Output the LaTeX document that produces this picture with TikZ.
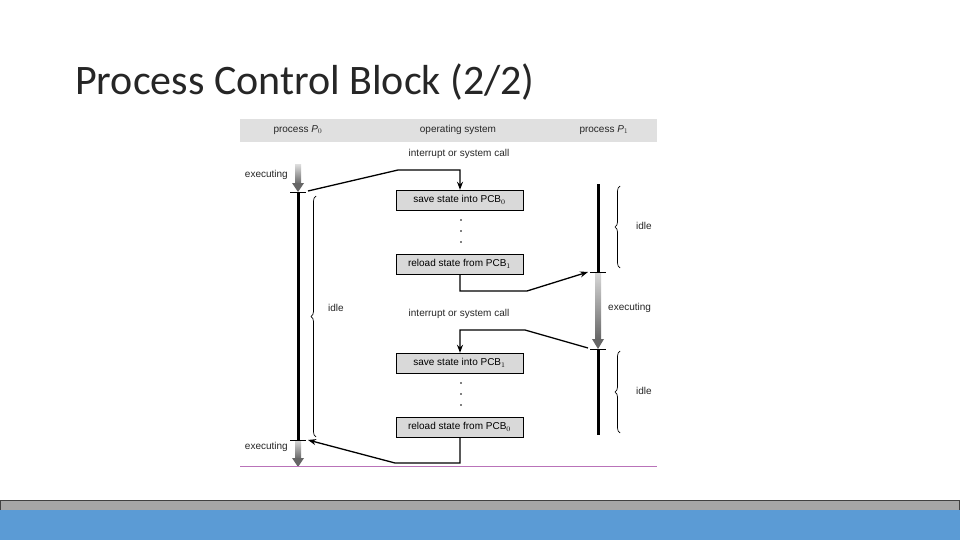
\documentclass[tikz,border=0pt]{standalone}
\usepackage{fontspec}
\setmainfont{Liberation Sans}
\newfontfamily\titlefont{Carlito}
\usetikzlibrary{decorations.pathreplacing,arrows.meta,shadings}
\begin{document}
\begin{tikzpicture}[x=1pt,y=-1pt,
  lbl/.style={font=\fontsize{10}{11}\selectfont, inner sep=0pt, text=black!85},
  box/.style={draw, fill=black!15, minimum width=127pt, minimum height=20pt, inner sep=0pt, font=\fontsize{10}{11}\selectfont},
  con/.style={line width=1.3pt, -{Stealth[length=8pt,width=6pt]}},
  bar/.style={line width=3pt},
  br/.style={decorate, decoration={brace, amplitude=5pt, mirror}, line width=0.7pt}]
\useasboundingbox (0,0) rectangle (960,540);
\fill[white] (0,0) rectangle (960,540);
\node[anchor=base west, inner sep=0pt, font=\titlefont\fontsize{42}{48}\selectfont, text=black!85] (title) at (75,95) {Process Control Block (2/2)};
% header
\fill[black!12] (240,119) rectangle (657,142);
\node[lbl] (h0) at (298,130) {process \textit{P}$_0$};
\node[lbl] (h1) at (458,130) {operating system};
\node[lbl] (h2) at (604,130) {process \textit{P}$_1$};
% executing arrows (gradient shaft + head)
\newcommand{\exarrow}[2]{%
  \shade[top color=black!15, bottom color=black!60] (#1-3,#2) rectangle (#1+3,#2+19);
  \fill[black!60] (#1-6,#2+18) -- (#1+6,#2+18) -- (#1,#2+27) -- cycle;}
% P0
\coordinate (p0b) at (298,192); \coordinate (p0c) at (298,440);
\exarrow{298}{165}
\draw[bar] (p0b) -- (p0c);
\exarrow{298}{440}
\draw[line width=0.5pt] (290,192) -- (306,192) (290,440) -- (306,440);
\node[lbl, anchor=east] (e0) at (288,175) {executing};
\node[lbl, anchor=east] (e1) at (288,447) {executing};
\draw[br] (316,196) -- (316,437);
\node[lbl, anchor=west] (i0) at (328,308) {idle};
% P1
\coordinate (p1a) at (598,184); \coordinate (p1b) at (598,272);
\coordinate (p1c) at (598,349); \coordinate (p1d) at (598,435);
\draw[bar] (p1a) -- (p1b);
\shade[top color=black!15, bottom color=black!60] (595,272) rectangle (601,340);
\fill[black!60] (592,339) -- (604,339) -- (598,349) -- cycle;
\draw[bar] (p1c) -- (p1d);
\draw[line width=0.5pt] (590,272) -- (606,272) (590,349) -- (606,349);
\draw[br] (620,186) -- (620,268);
\node[lbl, anchor=west] (i1) at (636,226) {idle};
\draw[br] (620,351) -- (620,433);
\node[lbl, anchor=west] (i2) at (636,391) {idle};
\node[lbl, anchor=west] (e2) at (608,308) {executing};
% OS
\node[lbl] (int1) at (459,154) {interrupt or system call};
\node[lbl] (int2) at (459,314) {interrupt or system call};
\node[box] (s0) at (459.5,200) {save state into PCB$_0$};
\node[box] (r1) at (459.5,264) {reload state from PCB$_1$};
\node[box] (s1) at (459.5,363) {save state into PCB$_1$};
\node[box] (r0) at (459.5,427) {reload state from PCB$_0$};
\foreach \y in {220,231,242,383,394,405} \fill (461,\y) circle (0.8);
% connectors
\draw[con] (308,191) -- (398,170) -- (460,170) -- (s0.north -| 460,0);
\draw[con] (r1.south -| 460,0) -- (460,291) -- (527,291) -- (588,272);
\draw[con] (588,348) -- (525,330) -- (460,330) -- (s1.north -| 460,0);
\draw[con] (r0.south -| 460,0) -- (460,463) -- (395,463) -- (308,440);
\draw[line width=1pt, draw=violet!55] (240,466) -- (657,466);
% footer
\fill[black!35] (0,500) rectangle (960,510);
\draw[black!75, line width=0.8pt] (0.4,500) rectangle (959.6,510);
\fill[fill={rgb,255:red,91;green,155;blue,213}] (0,510) rectangle (960,540);
\end{tikzpicture}
\end{document}
